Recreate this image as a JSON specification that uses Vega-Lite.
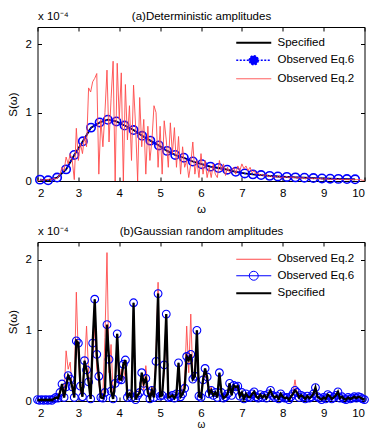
{
"$schema": "https://vega.github.io/schema/vega-lite/v6.json",
"background": "white",
"padding": {"left": 6.5, "top": 9, "right": 5, "bottom": 0},
"datasets": {
"topSpec": [
{"w":2.06,"s":0.02},{"w":2.26,"s":0.01},{"w":2.48,"s":0.05},{"w":2.70,"s":0.17},{"w":2.90,"s":0.38},{"w":3.11,"s":0.58},{"w":3.31,"s":0.78},{"w":3.52,"s":0.855},{"w":3.72,"s":0.895},{"w":3.93,"s":0.87},{"w":4.13,"s":0.81},{"w":4.35,"s":0.745},{"w":4.56,"s":0.66},{"w":4.76,"s":0.59},{"w":4.97,"s":0.52},{"w":5.17,"s":0.44},{"w":5.37,"s":0.38},{"w":5.58,"s":0.34},{"w":5.80,"s":0.285},{"w":6.02,"s":0.245},{"w":6.23,"s":0.21},{"w":6.43,"s":0.19},{"w":6.64,"s":0.165},{"w":6.85,"s":0.135},{"w":7.07,"s":0.11},{"w":7.27,"s":0.097},{"w":7.47,"s":0.087},{"w":7.68,"s":0.075},{"w":7.88,"s":0.066},{"w":8.10,"s":0.06},{"w":8.31,"s":0.053},{"w":8.53,"s":0.048},{"w":8.75,"s":0.043},{"w":8.96,"s":0.038},{"w":9.16,"s":0.034},{"w":9.36,"s":0.031},{"w":9.57,"s":0.028},{"w":9.77,"s":0.025}
],
"topObs2": [
{"w":2.00,"o2":0.01},{"w":2.05,"o2":0.01},{"w":2.10,"o2":0.02},{"w":2.15,"o2":0.01},{"w":2.20,"o2":0.02},{"w":2.25,"o2":0.02},{"w":2.30,"o2":0.03},{"w":2.35,"o2":0.02},{"w":2.40,"o2":0.04},{"w":2.45,"o2":0.03},
{"w":2.50,"o2":0.05},{"w":2.55,"o2":0.1},{"w":2.60,"o2":0.2},{"w":2.65,"o2":0.15},{"w":2.70,"o2":0.35},{"w":2.75,"o2":0.25},{"w":2.80,"o2":0.4},{"w":2.85,"o2":0.3},{"w":2.90,"o2":0.02},{"w":2.95,"o2":0.77},
{"w":3.00,"o2":0.3},{"w":3.05,"o2":0.55},{"w":3.10,"o2":0.4},{"w":3.15,"o2":0.65},{"w":3.20,"o2":0.5},{"w":3.25,"o2":1.36},{"w":3.30,"o2":1.3},{"w":3.35,"o2":1.45},{"w":3.40,"o2":1.5},{"w":3.45,"o2":1.57},
{"w":3.50,"o2":0.1},{"w":3.55,"o2":0.9},{"w":3.60,"o2":0.5},{"w":3.65,"o2":1.0},{"w":3.70,"o2":1.62},{"w":3.75,"o2":0.57},{"w":3.80,"o2":1.2},{"w":3.85,"o2":1.75},{"w":3.90,"o2":0.0},{"w":3.95,"o2":1.72},
{"w":4.00,"o2":0.9},{"w":4.05,"o2":1.58},{"w":4.10,"o2":0.0},{"w":4.15,"o2":1.41},{"w":4.20,"o2":0.6},{"w":4.25,"o2":1.1},{"w":4.30,"o2":0.3},{"w":4.35,"o2":1.4},{"w":4.40,"o2":0.8},{"w":4.45,"o2":0.0},
{"w":4.50,"o2":1.22},{"w":4.55,"o2":0.5},{"w":4.60,"o2":0.9},{"w":4.65,"o2":0.1},{"w":4.70,"o2":0.8},{"w":4.75,"o2":0.3},{"w":4.80,"o2":0.6},{"w":4.85,"o2":1.1},{"w":4.90,"o2":1.0},{"w":4.95,"o2":0.2},
{"w":5.00,"o2":0.8},{"w":5.05,"o2":0.1},{"w":5.10,"o2":0.88},{"w":5.15,"o2":0.6},{"w":5.20,"o2":0.2},{"w":5.25,"o2":0.85},{"w":5.30,"o2":0.4},{"w":5.35,"o2":0.78},{"w":5.40,"o2":0.2},{"w":5.45,"o2":0.65},
{"w":5.50,"o2":0.1},{"w":5.55,"o2":0.5},{"w":5.60,"o2":0.2},{"w":5.65,"o2":0.3},{"w":5.70,"o2":0.05},{"w":5.75,"o2":0.25},{"w":5.80,"o2":0.57},{"w":5.85,"o2":0.1},{"w":5.90,"o2":0.3},{"w":5.95,"o2":0.05},
{"w":6.00,"o2":0.4},{"w":6.05,"o2":0.1},{"w":6.10,"o2":0.3},{"w":6.15,"o2":0.05},{"w":6.20,"o2":0.2},{"w":6.25,"o2":0.05},{"w":6.30,"o2":0.25},{"w":6.35,"o2":0.1},{"w":6.40,"o2":0.05},{"w":6.45,"o2":0.3},
{"w":6.50,"o2":0.15},{"w":6.55,"o2":0.25},{"w":6.60,"o2":0.08},{"w":6.65,"o2":0.2},{"w":6.70,"o2":0.12},{"w":6.75,"o2":0.15},{"w":6.80,"o2":0.2},{"w":6.85,"o2":0.1},{"w":6.90,"o2":0.22},{"w":6.95,"o2":0.15},
{"w":7.00,"o2":0.25},{"w":7.05,"o2":0.18},{"w":7.10,"o2":0.22},{"w":7.15,"o2":0.15},{"w":7.20,"o2":0.2},{"w":7.25,"o2":0.12},{"w":7.30,"o2":0.15},{"w":7.35,"o2":0.1},{"w":7.40,"o2":0.12},{"w":7.45,"o2":0.08},
{"w":7.50,"o2":0.1},{"w":7.55,"o2":0.07},{"w":7.60,"o2":0.1},{"w":7.65,"o2":0.06},{"w":7.70,"o2":0.08},{"w":7.75,"o2":0.05},{"w":7.80,"o2":0.07},{"w":7.85,"o2":0.05},{"w":7.90,"o2":0.08},{"w":7.95,"o2":0.04},
{"w":8.00,"o2":0.06},{"w":8.05,"o2":0.05},{"w":8.10,"o2":0.07},{"w":8.15,"o2":0.04},{"w":8.20,"o2":0.06},{"w":8.25,"o2":0.05},{"w":8.30,"o2":0.06},{"w":8.35,"o2":0.04},{"w":8.40,"o2":0.05},{"w":8.45,"o2":0.04},
{"w":8.50,"o2":0.05},{"w":8.55,"o2":0.03},{"w":8.60,"o2":0.05},{"w":8.65,"o2":0.04},{"w":8.70,"o2":0.04},{"w":8.75,"o2":0.03},{"w":8.80,"o2":0.04},{"w":8.85,"o2":0.03},{"w":8.90,"o2":0.04},{"w":8.95,"o2":0.03},
{"w":9.00,"o2":0.03},{"w":9.05,"o2":0.03},{"w":9.10,"o2":0.03},{"w":9.15,"o2":0.02},{"w":9.20,"o2":0.03},{"w":9.25,"o2":0.02},{"w":9.30,"o2":0.03},{"w":9.35,"o2":0.02},{"w":9.40,"o2":0.03},{"w":9.45,"o2":0.02},
{"w":9.50,"o2":0.02},{"w":9.55,"o2":0.02},{"w":9.60,"o2":0.02},{"w":9.65,"o2":0.02},{"w":9.70,"o2":0.02},{"w":9.75,"o2":0.02},{"w":9.80,"o2":0.02},{"w":9.85,"o2":0.02},{"w":9.90,"o2":0.02},{"w":9.95,"o2":0.01},{"w":10.00,"o2":0.01}
],
"bot": [
{"w":2.00,"s":0.02,"o2":0.01},{"w":2.05,"s":0.01,"o2":0.02},{"w":2.10,"s":0.02,"o2":0.01},{"w":2.15,"s":0.01,"o2":0.02},{"w":2.20,"s":0.02,"o2":0.01},{"w":2.25,"s":0.01,"o2":0.02},{"w":2.30,"s":0.02,"o2":0.02},{"w":2.35,"s":0.01,"o2":0.03},{"w":2.40,"s":0.03,"o2":0.02},{"w":2.45,"s":0.05,"o2":0.04},
{"w":2.50,"s":0.04,"o2":0.06},{"w":2.55,"s":0.12,"o2":0.15},{"w":2.60,"s":0.24,"o2":0.2},{"w":2.65,"s":0.05,"o2":0.08},{"w":2.70,"s":0.2,"o2":0.71},{"w":2.75,"s":0.36,"o2":0.45},{"w":2.80,"s":0.31,"o2":0.55},{"w":2.85,"s":0.2,"o2":0.15},{"w":2.90,"s":0.05,"o2":0.2},{"w":2.95,"s":0.85,"o2":1.54},
{"w":3.00,"s":0.82,"o2":0.6},{"w":3.05,"s":0.21,"o2":0.1},{"w":3.10,"s":0.06,"o2":0.25},{"w":3.15,"s":0.57,"o2":0.5},{"w":3.20,"s":0.44,"o2":1.06},{"w":3.25,"s":0.27,"o2":0.4},{"w":3.30,"s":0.03,"o2":0.05},{"w":3.35,"s":0.82,"o2":0.6},{"w":3.40,"s":1.44,"o2":1.05},{"w":3.45,"s":0.66,"o2":0.45},
{"w":3.50,"s":0.35,"o2":0.25},{"w":3.55,"s":0.05,"o2":0.05},{"w":3.60,"s":0.04,"o2":0.1},{"w":3.65,"s":0.12,"o2":0.9},{"w":3.70,"s":1.08,"o2":2.1},{"w":3.75,"s":0.59,"o2":0.4},{"w":3.80,"s":0.14,"o2":0.8},{"w":3.85,"s":0.03,"o2":0.1},{"w":3.90,"s":0.25,"o2":0.3},{"w":3.95,"s":0.95,"o2":0.7},
{"w":4.00,"s":0.31,"o2":0.25},{"w":4.05,"s":0.3,"o2":0.45},{"w":4.10,"s":0.52,"o2":0.3},{"w":4.15,"s":0.58,"o2":0.45},{"w":4.20,"s":0.05,"o2":0.1},{"w":4.25,"s":0.1,"o2":0.08},{"w":4.30,"s":0.05,"o2":0.15},{"w":4.35,"s":1.39,"o2":1.0},{"w":4.40,"s":0.02,"o2":0.1},{"w":4.45,"s":0.08,"o2":0.06},
{"w":4.50,"s":0.12,"o2":0.2},{"w":4.55,"s":0.4,"o2":0.35},{"w":4.60,"s":0.25,"o2":0.15},{"w":4.65,"s":0.32,"o2":0.5},{"w":4.70,"s":0.12,"o2":0.2},{"w":4.75,"s":0.03,"o2":0.05},{"w":4.80,"s":0.15,"o2":0.2},{"w":4.85,"s":0.05,"o2":0.1},{"w":4.90,"s":0.56,"o2":0.7},{"w":4.95,"s":1.52,"o2":1.68},
{"w":5.00,"s":0.07,"o2":0.1},{"w":5.05,"s":0.08,"o2":0.15},{"w":5.10,"s":0.51,"o2":0.4},{"w":5.15,"s":1.23,"o2":1.1},{"w":5.20,"s":0.05,"o2":0.1},{"w":5.25,"s":0.06,"o2":0.05},{"w":5.30,"s":0.08,"o2":0.1},{"w":5.35,"s":0.04,"o2":0.05},{"w":5.40,"s":0.1,"o2":0.15},{"w":5.45,"s":0.54,"o2":0.45},
{"w":5.50,"s":0.06,"o2":0.1},{"w":5.55,"s":0.1,"o2":0.15},{"w":5.60,"s":0.18,"o2":0.3},{"w":5.65,"s":0.63,"o2":1.06},{"w":5.70,"s":0.58,"o2":0.4},{"w":5.75,"s":0.66,"o2":1.23},{"w":5.80,"s":0.31,"o2":0.35},{"w":5.85,"s":0.35,"o2":0.4},{"w":5.90,"s":1.0,"o2":0.8},{"w":5.95,"s":0.07,"o2":0.05},
{"w":6.00,"s":0.05,"o2":0.1},{"w":6.05,"s":0.3,"o2":0.35},{"w":6.10,"s":0.46,"o2":0.4},{"w":6.15,"s":0.34,"o2":0.25},{"w":6.20,"s":0.1,"o2":0.12},{"w":6.25,"s":0.15,"o2":0.2},{"w":6.30,"s":0.08,"o2":0.06},{"w":6.35,"s":0.12,"o2":0.1},{"w":6.40,"s":0.05,"o2":0.08},{"w":6.45,"s":0.4,"o2":0.35},
{"w":6.50,"s":0.12,"o2":0.1},{"w":6.55,"s":0.04,"o2":0.05},{"w":6.60,"s":0.06,"o2":0.08},{"w":6.65,"s":0.1,"o2":0.12},{"w":6.70,"s":0.25,"o2":0.2},{"w":6.75,"s":0.08,"o2":0.1},{"w":6.80,"s":0.22,"o2":0.18},{"w":6.85,"s":0.2,"o2":0.15},{"w":6.90,"s":0.21,"o2":0.25},{"w":6.95,"s":0.07,"o2":0.05},
{"w":7.00,"s":0.12,"o2":0.1},{"w":7.05,"s":0.03,"o2":0.06},{"w":7.10,"s":0.1,"o2":0.12},{"w":7.15,"s":0.06,"o2":0.05},{"w":7.20,"s":0.05,"o2":0.08},{"w":7.25,"s":0.1,"o2":0.09},{"w":7.30,"s":0.13,"o2":0.12},{"w":7.35,"s":0.06,"o2":0.05},{"w":7.40,"s":0.04,"o2":0.06},{"w":7.45,"s":0.09,"o2":0.1},
{"w":7.50,"s":0.05,"o2":0.04},{"w":7.55,"s":0.08,"o2":0.07},{"w":7.60,"s":0.04,"o2":0.05},{"w":7.65,"s":0.1,"o2":0.08},{"w":7.70,"s":0.15,"o2":0.13},{"w":7.75,"s":0.08,"o2":0.07},{"w":7.80,"s":0.05,"o2":0.06},{"w":7.85,"s":0.07,"o2":0.05},{"w":7.90,"s":0.03,"o2":0.04},{"w":7.95,"s":0.1,"o2":0.08},
{"w":8.00,"s":0.06,"o2":0.07},{"w":8.05,"s":0.04,"o2":0.03},{"w":8.10,"s":0.05,"o2":0.06},{"w":8.15,"s":0.02,"o2":0.03},{"w":8.20,"s":0.06,"o2":0.05},{"w":8.25,"s":0.1,"o2":0.12},{"w":8.30,"s":0.15,"o2":0.3},{"w":8.35,"s":0.12,"o2":0.1},{"w":8.40,"s":0.05,"o2":0.06},{"w":8.45,"s":0.08,"o2":0.07},
{"w":8.50,"s":0.06,"o2":0.05},{"w":8.55,"s":0.03,"o2":0.04},{"w":8.60,"s":0.07,"o2":0.06},{"w":8.65,"s":0.04,"o2":0.05},{"w":8.70,"s":0.06,"o2":0.05},{"w":8.75,"s":0.1,"o2":0.09},{"w":8.80,"s":0.19,"o2":0.16},{"w":8.85,"s":0.06,"o2":0.07},{"w":8.90,"s":0.04,"o2":0.03},{"w":8.95,"s":0.02,"o2":0.03},
{"w":9.00,"s":0.05,"o2":0.04},{"w":9.05,"s":0.03,"o2":0.04},{"w":9.10,"s":0.09,"o2":0.08},{"w":9.15,"s":0.07,"o2":0.06},{"w":9.20,"s":0.03,"o2":0.04},{"w":9.25,"s":0.05,"o2":0.04},{"w":9.30,"s":0.08,"o2":0.07},{"w":9.35,"s":0.13,"o2":0.11},{"w":9.40,"s":0.04,"o2":0.05},{"w":9.45,"s":0.06,"o2":0.05},
{"w":9.50,"s":0.03,"o2":0.04},{"w":9.55,"s":0.02,"o2":0.03},{"w":9.60,"s":0.05,"o2":0.04},{"w":9.65,"s":0.03,"o2":0.03},{"w":9.70,"s":0.04,"o2":0.05},{"w":9.75,"s":0.06,"o2":0.05},{"w":9.80,"s":0.04,"o2":0.04},{"w":9.85,"s":0.06,"o2":0.05},{"w":9.90,"s":0.05,"o2":0.04},{"w":9.95,"s":0.03,"o2":0.03},{"w":10.00,"s":0.02,"o2":0.02}
]
},
"spacing": 61,
"bounds": "flush",
"resolve": {"scale": {"color": "independent"}},
"vconcat": [
{
"width": 327, "height": 154,
"resolve": {"axis": {"x": "independent", "y": "independent"}},
"layer": [
{"data": {"name": "topSpec"},
 "mark": {"type": "line", "strokeWidth": 1.8},
 "encoding": {
  "x": {"field": "w", "type": "quantitative", "scale": {"domain": [2, 10], "nice": false, "zero": false},
        "axis": {"orient": "top", "values": [2,3,4,5,6,7,8,9,10], "labels": false, "title": "(a)Deterministic amplitudes", "titleX": 163.5, "titleY": -8, "titleAlign": "center", "titleBaseline": "alphabetic"}},
  "y": {"field": "s", "type": "quantitative", "scale": {"domain": [0, 2.25], "nice": false},
        "axis": {"orient": "right", "values": [0,1,2], "labels": false, "title": "x 10⁻⁴", "titleAngle": 0, "titleX": -327, "titleY": -8, "titleAlign": "left", "titleBaseline": "alphabetic"}},
  "color": {"datum": "Specified", "type": "nominal",
   "scale": {"domain": ["Specified", "Observed Eq.6", "Observed Eq.2"], "range": ["#000000", "#0000ff", "#ff4a4a"]},
   "legend": {"title": null, "orient": "none", "legendX": 210.5, "legendY": 10,
     "symbolType": "M-3.5,0H3.5", "symbolSize": 100, "labelOffset": 18, "rowPadding": 3.5,
     "encode": {"symbols": {"update": {
       "shape": {"signal": "datum.value === 'Observed Eq.6' ? 'M-3.5,0H3.5M-0.9,0A0.9,0.9 0 1,1 0.9,0A0.9,0.9 0 1,1 -0.9,0' : 'M-3.5,0H3.5'"},
       "strokeDash": {"signal": "datum.value === 'Observed Eq.6' ? [2,1.5] : [1,0]"},
       "fill": {"signal": "datum.value === 'Observed Eq.6' ? '#0000ff' : 'transparent'"},
       "strokeWidth": {"signal": "datum.value === 'Observed Eq.2' ? 1 : (datum.value === 'Specified' ? 2 : 1.5)"}
     }}}}}
 }},
{"data": {"name": "topSpec"},
 "mark": {"type": "line", "strokeWidth": 1.5, "strokeDash": [2, 1.5]},
 "encoding": {
  "x": {"field": "w", "type": "quantitative", "axis": null},
  "y": {"field": "s", "type": "quantitative", "axis": null},
  "color": {"datum": "Observed Eq.6", "type": "nominal"}
 }},
{"data": {"name": "topSpec"},
 "mark": {"type": "point", "shape": "circle", "filled": false, "size": 70, "strokeWidth": 1.6, "opacity": 1},
 "encoding": {
  "x": {"field": "w", "type": "quantitative", "axis": null},
  "y": {"field": "s", "type": "quantitative", "axis": null},
  "color": {"datum": "Observed Eq.6", "type": "nominal"}
 }},
{"data": {"name": "topObs2"},
 "mark": {"type": "line", "strokeWidth": 0.9},
 "encoding": {
  "x": {"field": "w", "type": "quantitative", "axis": {"orient": "bottom", "values": [2,3,4,5,6,7,8,9,10], "title": "ω", "titleY": 22}},
  "y": {"field": "o2", "type": "quantitative", "axis": {"orient": "left", "values": [0,1,2], "title": "S(ω)", "titleX": -19, "titleBaseline": "bottom"}},
  "color": {"datum": "Observed Eq.2", "type": "nominal"}
 }}
]
},
{
"width": 327, "height": 159,
"resolve": {"axis": {"x": "independent", "y": "independent"}},
"layer": [
{"data": {"name": "bot"},
 "mark": {"type": "line", "strokeWidth": 0.9},
 "encoding": {
  "x": {"field": "w", "type": "quantitative", "scale": {"domain": [2, 10], "nice": false, "zero": false},
        "axis": {"orient": "bottom", "values": [2,3,4,5,6,7,8,9,10], "title": "ω", "titleY": 18.5, "titleFontSize": 10}},
  "y": {"field": "o2", "type": "quantitative", "scale": {"domain": [0, 2.25], "nice": false},
        "axis": {"orient": "left", "values": [0,1,2], "title": "S(ω)", "titleX": -19, "titleBaseline": "bottom"}},
  "color": {"datum": "Observed Eq.2", "type": "nominal",
   "scale": {"domain": ["Observed Eq.2", "Observed Eq.6", "Specified"], "range": ["#ff4a4a", "#0000ff", "#000000"]},
   "legend": {"title": null, "orient": "none", "legendX": 210.5, "legendY": 11.5,
     "symbolType": "M-3.5,0H3.5", "symbolSize": 100, "labelOffset": 18, "rowPadding": 3.5,
     "encode": {"symbols": {"update": {
       "shape": {"signal": "datum.value === 'Observed Eq.6' ? 'M-3.5,0H3.5M-0.9,0A0.9,0.9 0 1,1 0.9,0A0.9,0.9 0 1,1 -0.9,0' : 'M-3.5,0H3.5'"},
       "fill": {"value": "transparent"},
       "strokeWidth": {"signal": "datum.value === 'Observed Eq.2' ? 1 : (datum.value === 'Specified' ? 2.2 : 1)"}
     }}}}}
 }},
{"data": {"name": "bot"},
 "mark": {"type": "line", "strokeWidth": 0.7},
 "encoding": {
  "x": {"field": "w", "type": "quantitative", "axis": null},
  "y": {"field": "s", "type": "quantitative", "axis": null},
  "color": {"datum": "Observed Eq.6", "type": "nominal"}
 }},
{"data": {"name": "bot"},
 "mark": {"type": "point", "shape": "circle", "filled": false, "size": 60, "strokeWidth": 1.1, "opacity": 1},
 "encoding": {
  "x": {"field": "w", "type": "quantitative", "axis": null},
  "y": {"field": "s", "type": "quantitative", "axis": null},
  "color": {"datum": "Observed Eq.6", "type": "nominal"}
 }},
{"data": {"name": "bot"},
 "mark": {"type": "line", "strokeWidth": 2.3},
 "encoding": {
  "x": {"field": "w", "type": "quantitative", "axis": {"orient": "top", "values": [2,3,4,5,6,7,8,9,10], "labels": false, "title": "(b)Gaussian random amplitudes", "titleX": 163.5, "titleY": -8, "titleAlign": "center", "titleBaseline": "alphabetic"}},
  "y": {"field": "s", "type": "quantitative", "axis": {"orient": "right", "values": [0,1,2], "labels": false, "title": "x 10⁻⁴", "titleAngle": 0, "titleX": -327, "titleY": -8, "titleAlign": "left", "titleBaseline": "alphabetic"}},
  "color": {"datum": "Specified", "type": "nominal"}
 }}
]
}
],
"config": {
 "font": "Liberation Sans",
 "view": {"stroke": "#000000", "strokeWidth": 1},
 "axis": {"grid": false, "domain": false, "tickColor": "#000000", "tickSize": -4, "tickWidth": 1,
   "labelFont": "Liberation Sans", "labelFontSize": 11.5, "labelColor": "#000000", "labelPadding": 10,
   "titleFont": "Liberation Sans", "titleFontSize": 11.5, "titleFontWeight": "normal", "titleColor": "#000000"},
 "legend": {"labelFont": "Liberation Sans", "labelFontSize": 11.5, "labelColor": "#000000", "padding": 0}
}
}
